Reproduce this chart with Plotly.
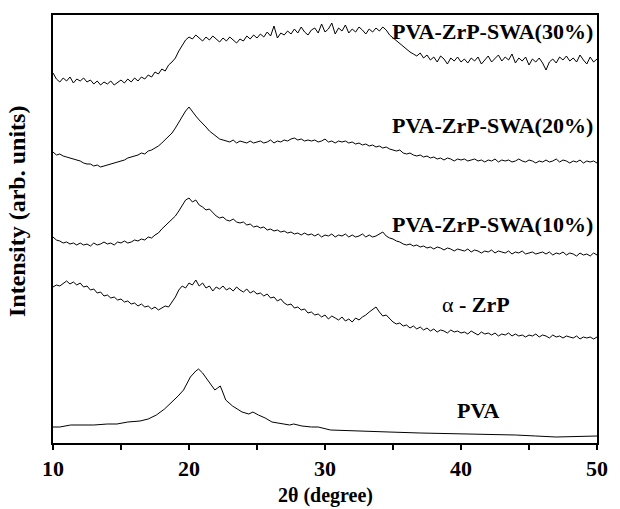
import numpy as np
import plotly.graph_objects as go

# 2-theta sampling grid (degrees) for the measured noisy patterns
two_theta = np.arange(10.0, 50.0001, 0.25)

# Intensity (arb. units, vertically offset as in the figure)
swa30 = [
    370, 364, 361, 365, 362, 366, 360, 364, 362,
    365, 361, 363, 359, 362, 358, 361, 359,
    362, 358, 361, 363, 360, 364, 361, 365,
    362, 366, 364, 368, 366, 371,
    369, 374, 372, 378, 381, 385,
    392, 398, 403, 406,
    404, 408, 405, 402, 406, 403, 407, 404, 401, 405, 402, 406, 403, 400, 404, 402, 407, 404, 408, 405,
    409, 406, 411, 407, 417, 405, 410, 408,
    412, 409, 414, 410, 416, 411, 408, 413,
    415, 410, 419, 411, 414, 420, 409, 415,
    412, 418, 410, 414, 411, 416, 413, 409,
    414, 411, 415, 412, 416, 413, 408, 405,
    402, 399, 396, 394, 391, 389, 387, 390,
    385, 388, 383, 386, 381, 387, 384, 379, 385, 382, 386, 381,
    384, 380, 385, 382, 386, 379, 383, 387, 381, 384, 388, 382,
    386, 383, 389, 380, 385, 382, 386, 378, 384, 381, 385, 380,
    373, 381, 384, 380, 386, 383, 387, 382,
    385, 381, 388, 383, 379, 386, 381, 384,
]

swa20 = [
    291, 288, 289, 287, 286, 285, 284, 283, 282,
    280, 279, 279, 277, 278, 276, 277, 278,
    279, 280, 281, 282, 283, 285, 286, 287,
    288, 290, 289, 292, 293, 295,
    297, 300, 303, 306, 310, 315,
    321, 327, 332, 336,
    331, 327, 323, 320, 316, 312, 309, 306, 304, 303, 302, 301, 303, 300, 302, 301, 300, 302, 300, 301,
    302, 300, 301, 303, 300, 302, 301, 303,
    302, 304, 305, 303, 304, 302, 303, 302,
    303, 301, 302, 304, 301, 302, 300, 302,
    301, 302, 300, 301, 299, 300, 298, 299,
    297, 298, 296, 297, 295, 296, 294, 293,
    292, 293, 290, 289, 290, 288, 287, 288,
    286, 287, 285, 286, 284, 285, 283, 285, 284, 282, 284, 283,
    284, 282, 283, 284, 282, 283, 281, 283, 282, 284, 281, 283,
    282, 283, 281, 282, 284, 282, 281, 283, 282, 280, 282, 281,
    283, 281, 282, 284, 281, 283, 282, 280,
    282, 281, 283, 280, 282, 281, 282, 280,
]

swa10 = [
    206, 203, 202, 200, 201, 199, 200, 198, 200,
    198, 199, 197, 200, 198, 199, 201, 199,
    200, 198, 201, 200, 202, 200, 201, 203,
    202, 204, 203, 206, 205, 208,
    210, 214, 217, 220, 223, 227,
    232, 238, 243, 245,
    241, 243, 238, 236, 233, 234, 230, 227, 225, 226, 223, 222, 224, 221, 220, 221, 218, 219, 216, 217,
    215, 216, 213, 214, 212, 213, 211, 212,
    210, 211, 209, 210, 208, 210, 208, 209,
    207, 209, 206, 208, 207, 209, 206, 208,
    207, 209, 206, 208, 206, 207, 209, 206,
    208, 206, 207, 209, 211, 207, 205, 204,
    202, 201, 199, 198, 199, 197, 198, 196,
    197, 195, 196, 194, 196, 195, 193, 195, 194, 192, 194, 193,
    192, 194, 191, 193, 192, 190, 192, 191, 193, 190, 192, 191,
    190, 192, 189, 191, 190, 192, 189, 190, 191, 189, 190, 191,
    189, 191, 188, 190, 189, 191, 188, 190,
    189, 187, 190, 188, 189, 187, 190, 188,
]

zrp = [
    156, 158, 157, 160, 162, 159, 161, 158, 160,
    156, 157, 153, 154, 150, 151, 147, 148,
    145, 146, 143, 144, 141, 142, 139, 140,
    137, 139, 136, 137, 134, 136,
    133, 135, 137, 136, 141, 146,
    153, 157, 155, 160,
    158, 163, 157, 160, 155, 157, 152, 156, 154, 157, 153, 155, 152, 156, 153, 151, 154, 150, 152, 149,
    150, 147, 149, 145, 146, 142, 144, 140,
    138, 139, 135, 136, 133, 134, 130, 131,
    128, 129, 126, 128, 124, 127, 125, 123,
    126, 122, 124, 121, 125, 123, 126, 128,
    131, 134, 136, 131, 127, 128, 124, 121,
    119, 120, 117, 118, 115, 117, 114, 116,
    113, 115, 112, 114, 111, 113, 112, 110, 113, 111, 112, 110,
    111, 109, 112, 110, 108, 111, 109, 110, 108, 110, 107, 109,
    108, 110, 107, 109, 107, 108, 106, 108, 107, 109, 106, 108,
    107, 105, 108, 106, 107, 105, 107, 106,
    105, 107, 104, 106, 105, 106, 104, 106,
]

pva_x = [10.0, 10.5, 11.3, 12, 13, 14, 14.7, 15.5, 16.4, 17, 17.6, 18.2, 18.7, 19.2,
         19.6, 20.1, 20.5, 20.7, 21.0, 21.3, 21.6, 21.9, 22.1, 22.3, 22.45, 22.7, 23.2,
         23.9, 24.4, 24.7, 25.1, 25.6, 26.1, 26.8, 27.4, 27.7, 28.3, 29, 29.5, 30.4, 32,
         34.7, 37, 40.4, 42, 44, 45.5, 47, 50]
pva = [16, 16, 18, 18, 18, 19, 19, 21, 22, 24, 28, 34, 40, 47,
       53, 66, 72, 74, 70, 64, 58, 53, 55, 57, 52, 43, 37,
       31, 29, 31, 28, 25, 21, 19, 18, 19, 17, 16, 16, 13, 12,
       11, 10, 9, 9, 8, 7, 6, 7]

labels = ["PVA-ZrP-SWA(30%)", "PVA-ZrP-SWA(20%)", "PVA-ZrP-SWA(10%)", "α - ZrP", "PVA"]
tick_values = [10, 20, 30, 40, 50]

FONT = "Liberation Serif, Times New Roman, serif"

fig = go.Figure()
line = dict(color="black", width=1)
for ys in [swa30, swa20, swa10, zrp]:
    fig.add_trace(go.Scatter(x=two_theta, y=ys, mode="lines", line=line,
                             showlegend=False, hoverinfo="skip"))
fig.add_trace(go.Scatter(x=pva_x, y=pva, mode="lines", line=line,
                         showlegend=False, hoverinfo="skip"))

ann_font = dict(family=FONT, size=22, color="black")
fig.add_annotation(x=49.85, y=412, text="<b>" + labels[0] + "</b>", showarrow=False,
                   xanchor="right", yanchor="middle", font=ann_font)
fig.add_annotation(x=49.85, y=318, text="<b>" + labels[1] + "</b>", showarrow=False,
                   xanchor="right", yanchor="middle", font=ann_font)
fig.add_annotation(x=49.85, y=219, text="<b>" + labels[2] + "</b>", showarrow=False,
                   xanchor="right", yanchor="middle", font=ann_font)
fig.add_annotation(x=41.13, y=139, text="α <b>- ZrP</b>", showarrow=False,
                   xanchor="center", yanchor="middle", font=ann_font)
fig.add_annotation(x=41.28, y=33, text="<b>" + labels[4] + "</b>", showarrow=False,
                   xanchor="center", yanchor="middle", font=ann_font)

# axis titles
fig.add_annotation(x=0.5, y=-0.123, xref="paper", yref="paper", text="<b>2θ (degree)</b>",
                   showarrow=False, xanchor="center", yanchor="middle",
                   font=dict(family=FONT, size=20, color="black"))
fig.add_annotation(x=-0.066, y=0.54, xref="paper", yref="paper",
                   text="<b>Intensity (arb. units)</b>", textangle=-90,
                   showarrow=False, xanchor="center", yanchor="middle",
                   font=dict(family=FONT, size=24, color="black"))

fig.update_xaxes(range=[10, 50], tickvals=tick_values,
                 ticktext=["<b>%d</b>" % v for v in tick_values],
                 ticks="outside", ticklen=5, tickwidth=1.5, tickcolor="black",
                 minor=dict(dtick=5, tick0=10, ticks="outside", ticklen=5, tickwidth=1.5, tickcolor="black"),
                 showline=True, linecolor="black", linewidth=2, mirror=True,
                 showgrid=False, zeroline=False,
                 tickfont=dict(family=FONT, size=22, color="black"))
fig.update_yaxes(range=[0, 428], showticklabels=False, ticks="",
                 showline=True, linecolor="black", linewidth=2, mirror=True,
                 showgrid=False, zeroline=False)

fig.update_layout(width=620, height=509, margin=dict(l=53, r=12, t=15, b=66),
                  paper_bgcolor="white", plot_bgcolor="white")

fig.write_html("out.html")
